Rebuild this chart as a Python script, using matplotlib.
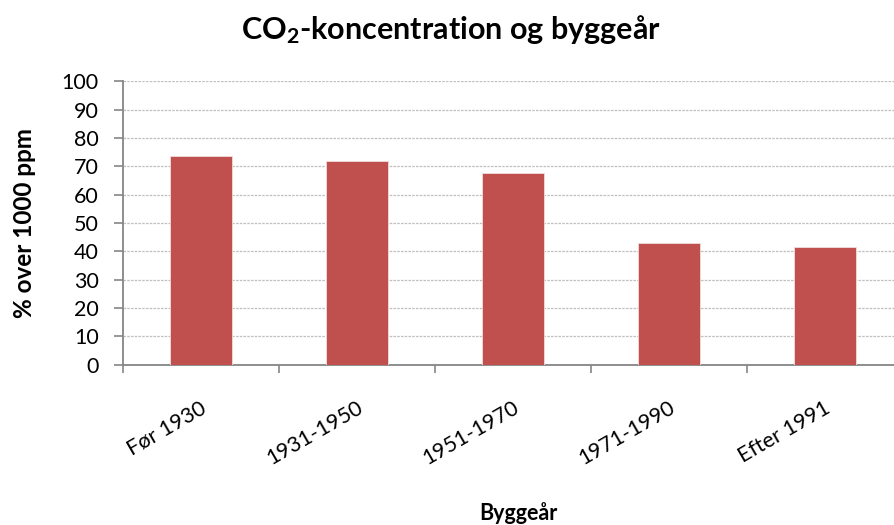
import matplotlib
matplotlib.use("Agg")
import matplotlib.pyplot as plt
import matplotlib.transforms as mtransforms
import numpy as np

categories = ["Før 1930", "1931-1950", "1951-1970", "1971-1990", "Efter 1991"]
values = [73.6, 71.8, 67.6, 43.1, 41.4]
yticks = list(range(0, 101, 10))

plt.rcParams['font.family'] = ['Lato', 'DejaVu Sans']
plt.rcParams['mathtext.fontset'] = 'custom'
plt.rcParams['mathtext.rm'] = 'Lato:bold'
plt.rcParams['mathtext.default'] = 'rm'

W, H = 895, 525
fig = plt.figure(figsize=(W / 100, H / 100), dpi=100)
left, right, top, bottom = 123, 903, 81.3, 364.7
ax = fig.add_axes([left / W, 1 - bottom / H, (right - left) / W, (bottom - top) / H])

x = np.arange(len(categories))
ax.bar(x, values, width=0.4, color='#C0504D', edgecolor='#F2DCDB', linewidth=0.6, zorder=3)

ax.set_xlim(-0.5, len(categories) - 0.5)
ax.set_ylim(0, 100)
ax.set_yticks(yticks)
ax.set_yticklabels([str(t) for t in yticks], fontsize=15.5)
ax.yaxis.grid(True, color='#BFBFBF', linestyle=(0, (2, 1)), linewidth=0.9, zorder=0)

ax.set_xticks(x)
ax.set_xticklabels(categories, fontsize=15.5, rotation=30, ha='right', va='center',
                   rotation_mode='anchor')
ax.tick_params(axis='x', which='major', length=0, pad=30)
offset = mtransforms.ScaledTranslation(4 / 100, 0, fig.dpi_scale_trans)
for lab in ax.get_xticklabels():
    lab.set_transform(lab.get_transform() + offset)
ax.set_xticks(np.arange(-0.5, len(categories), 1.0), minor=True)
ax.tick_params(axis='x', which='minor', length=6, width=1.2, color='#868686', direction='out')
ax.tick_params(axis='y', length=6.5, width=1.2, color='#868686', direction='out', pad=11)

for s in ['top', 'right']:
    ax.spines[s].set_visible(False)
for s in ['left', 'bottom']:
    ax.spines[s].set_color('#868686')
    ax.spines[s].set_linewidth(1.3)

fig.text(451 / W, 1 - 38.5 / H, r"CO$_2$-koncentration og byggeår", fontsize=22,
         fontweight='bold', ha='center', va='baseline')
fig.text(25 / W, 1 - 223 / H, "% over 1000 ppm", fontsize=17.5, fontweight='bold',
         rotation=90, ha='center', va='center')
fig.text(518 / W, 1 - 520 / H, "Byggeår", fontsize=15.5, fontweight='bold',
         ha='center', va='baseline')

fig.savefig("out.png", dpi=100)
